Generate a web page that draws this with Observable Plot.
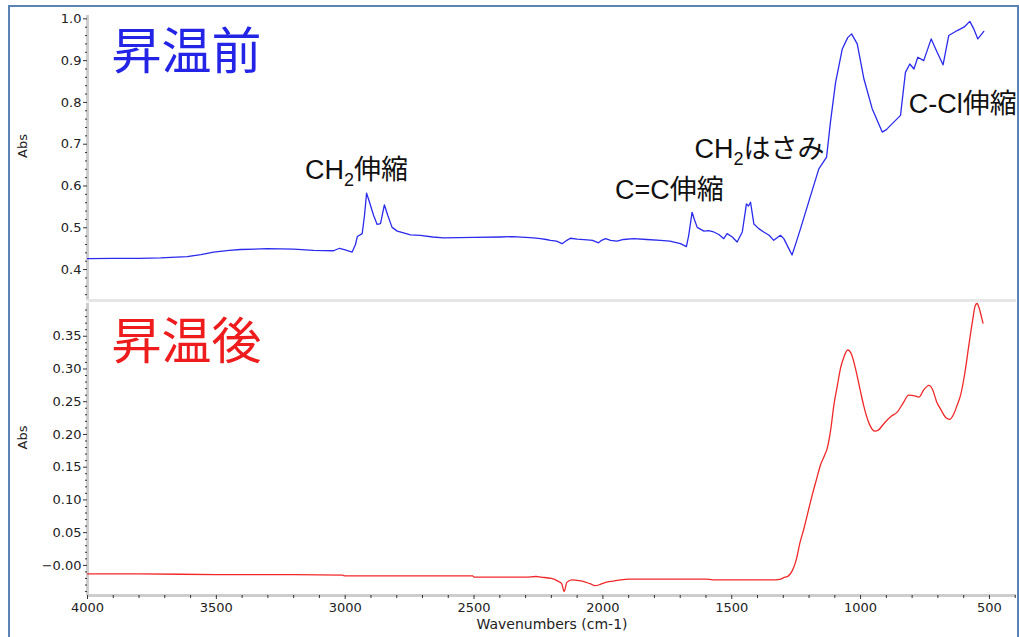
<!DOCTYPE html>
<html>
<head>
<meta charset="utf-8">
<script src="https://cdn.jsdelivr.net/npm/d3@7"></script>
<script src="https://cdn.jsdelivr.net/npm/@observablehq/plot@0.6"></script>
<style>
  html, body { margin: 0; padding: 0; background: #fff; }
  #wrap { position: relative; width: 1019px; height: 637px; overflow: hidden; background: #fff; }
  #frame { position: absolute; left: 8px; top: 5px; width: 1007px; height: 700px; border: 2px solid #5b83b3; border-bottom: none; }
  #sep { position: absolute; left: 87px; top: 299px; width: 929px; height: 3px; background: #e6e6e6; }
  .chart { position: absolute; left: 0; }
</style>
</head>
<body>
<div id="wrap">
  <div id="frame"></div>
  <div id="topChart" class="chart" style="top:0px"></div>
  <div id="sep"></div>
  <div id="botChart" class="chart" style="top:300px"></div>
</div>
<script>
// ---- Data: before heating (昇温前) ----
const topWn = [4000,3900,3800,3717,3613,3560,3511,3450,3406,3303,3200,3123,3045,3022,3000,2973,2960,2953,2934,2925,2917,2905,2890,2876,2863,2848,2835,2818,2798,2770,2747,2708,2660,2619,2500,2397,2348,2300,2270,2242,2220,2203,2180,2158,2140,2126,2100,2061,2040,2017,2005,1990,1970,1945,1920,1881,1830,1776,1740,1699,1676,1667,1654,1645,1634,1608,1590,1570,1550,1531,1518,1498,1479,1459,1443,1435,1427,1414,1395,1376,1355,1337,1311,1298,1280,1266,1250,1233,1194,1162,1132,1117,1097,1071,1050,1035,1013,987,955,916,900,884,845,826,809,793,778,755,726,703,680,658,625,599,576,561,545,522];
const topAbs = [0.426,0.427,0.427,0.428,0.431,0.436,0.442,0.446,0.448,0.450,0.449,0.446,0.445,0.451,0.447,0.442,0.460,0.479,0.486,0.530,0.583,0.560,0.530,0.508,0.510,0.555,0.530,0.501,0.492,0.487,0.483,0.482,0.478,0.476,0.477,0.478,0.479,0.477,0.476,0.474,0.472,0.470,0.468,0.462,0.470,0.475,0.473,0.471,0.470,0.464,0.470,0.474,0.470,0.468,0.472,0.474,0.472,0.470,0.468,0.462,0.455,0.482,0.537,0.520,0.501,0.492,0.493,0.490,0.484,0.474,0.486,0.478,0.466,0.490,0.557,0.552,0.561,0.509,0.498,0.490,0.482,0.470,0.482,0.474,0.452,0.435,0.465,0.498,0.577,0.641,0.669,0.753,0.848,0.928,0.955,0.964,0.940,0.856,0.785,0.729,0.735,0.745,0.769,0.872,0.892,0.880,0.908,0.900,0.952,0.920,0.890,0.960,0.972,0.980,0.994,0.976,0.952,0.970];

// ---- Data: after heating (昇温後) ----
const botWn = [4000,3800,3500,3200,3010,3000,2700,2505,2500,2300,2260,2240,2200,2175,2160,2150,2140,2120,2100,2080,2050,2030,2010,1990,1960,1930,1900,1850,1700,1600,1575,1400,1330,1310,1300,1280,1265,1250,1235,1220,1200,1188,1170,1156,1140,1130,1115,1104,1090,1078,1065,1050,1035,1020,1000,988,965,945,930,915,904,880,858,835,813,790,774,755,735,720,705,690,670,654,640,625,612,595,580,565,555,548,540,530,525];
const botAbs = [-0.013,-0.013,-0.014,-0.014,-0.015,-0.016,-0.016,-0.016,-0.018,-0.018,-0.017,-0.018,-0.020,-0.024,-0.028,-0.040,-0.026,-0.022,-0.023,-0.024,-0.028,-0.031,-0.029,-0.026,-0.024,-0.022,-0.021,-0.021,-0.021,-0.021,-0.022,-0.022,-0.022,-0.021,-0.019,-0.016,-0.008,0.008,0.035,0.056,0.088,0.107,0.133,0.153,0.168,0.178,0.210,0.244,0.275,0.301,0.318,0.329,0.322,0.301,0.265,0.244,0.215,0.205,0.207,0.214,0.219,0.228,0.234,0.248,0.260,0.259,0.257,0.268,0.275,0.268,0.250,0.239,0.226,0.223,0.230,0.245,0.260,0.295,0.336,0.375,0.397,0.400,0.393,0.378,0.370];

// ---- Titles, annotations, ticks ----
const titles = ["昇温前", "昇温後"];
const annLabels = ["CH₂伸縮", "C=C伸縮", "CH₂はさみ", "C-Cl伸縮"];
const annWn = [2956, 1742, 1392, 604];
const annAbs = [0.637, 0.589, 0.687, 0.795];
const topTicks = [0.4, 0.5, 0.6, 0.7, 0.8, 0.9, 1.0];
const topTickLabels = ["0.4", "0.5", "0.6", "0.7", "0.8", "0.9", "1.0"];
const botTicks = [0.0, 0.05, 0.10, 0.15, 0.20, 0.25, 0.30, 0.35];
const botTickLabels = ["−0.00", "0.05", "0.10", "0.15", "0.20", "0.25", "0.30", "0.35"];
const xTicks = [4000, 3500, 3000, 2500, 2000, 1500, 1000, 500];
const xTickLabels = ["4000", "3500", "3000", "2500", "2000", "1500", "1000", "500"];
const xLabel = "Wavenumbers (cm-1)";
const yLabel = "Abs";

const topData = topWn.map((w, i) => ({wn: w, abs: topAbs[i]}));
const botData = botWn.map((w, i) => ({wn: w, abs: botAbs[i]}));
const annData = annLabels.map((t, i) => ({t, wn: annWn[i], abs: annAbs[i]}));

const xDomain = [4000, 395];
const topDomain = [0.326, 1.008];
const botDomain = [-0.046, 0.400];
const tickFont = "'DejaVu Sans', sans-serif";
const axisGray = "#cdcdcd";

const topMinor = d3.range(0.34, 1.0001, 0.02).map(v => +v.toFixed(2)).filter(v => !topTicks.some(t => Math.abs(t - v) < 1e-6));
const botMinor = d3.range(-0.04, 0.40, 0.01).map(v => +v.toFixed(2)).filter(v => !botTicks.some(t => Math.abs(t - v) < 1e-6));
const xMinor = d3.range(400, 4001, 100).filter(v => v % 500 !== 0);

function subscript(svg) {
  svg.querySelectorAll("text").forEach(t => {
    if (t.textContent.includes("₂") && t.children.length === 0) {
      const [a, b] = t.textContent.split("₂");
      t.textContent = "";
      const ns = "http://www.w3.org/2000/svg";
      const s1 = document.createElementNS(ns, "tspan"); s1.textContent = a;
      const s2 = document.createElementNS(ns, "tspan"); s2.textContent = "2";
      s2.setAttribute("font-size", "18"); s2.setAttribute("dy", "7");
      const s3 = document.createElementNS(ns, "tspan"); s3.textContent = b;
      s3.setAttribute("dy", "-7");
      t.append(s1, s2, s3);
    }
  });
}

const topPlot = Plot.plot({
  width: 1019, height: 301,
  marginLeft: 87, marginRight: 3, marginTop: 15, marginBottom: 1,
  style: {background: "transparent", fontFamily: tickFont, fontSize: "13px", color: "#222", overflow: "visible"},
  x: {domain: xDomain, axis: null},
  y: {domain: topDomain, axis: null},
  marks: [
    Plot.ruleX([4000], {stroke: axisGray, strokeWidth: 3}),
    Plot.axisY(topMinor, {tickSize: 2, tickFormat: () => "", stroke: "#333", label: null}),
    Plot.axisY(topTicks, {tickSize: 4, tickPadding: 2, tickFormat: (d, i) => topTickLabels[i], stroke: "#333", fill: "#222", fontSize: 13, label: null}),
    Plot.text([yLabel], {frameAnchor: "left", rotate: -90, dx: -65, fontSize: 13, fill: "#222"}),
    Plot.line(topData, {x: "wn", y: "abs", stroke: "#2b2bee", strokeWidth: 1.3}),
    Plot.text([titles[0]], {frameAnchor: "top-left", dx: 24, dy: 18, lineAnchor: "top", textAnchor: "start", fontSize: 50, fill: "#2424e6", fontFamily: "'Noto Sans CJK JP', sans-serif"}),
    Plot.text(annData, {x: "wn", y: "abs", text: "t", textAnchor: "middle", fontSize: 27, fill: "#111", fontFamily: "'Liberation Sans', 'Noto Sans CJK JP', sans-serif"})
  ]
});
subscript(topPlot);
document.getElementById("topChart").append(topPlot);

const botPlot = Plot.plot({
  width: 1019, height: 337,
  marginLeft: 87, marginRight: 3, marginTop: 3, marginBottom: 42,
  style: {background: "transparent", fontFamily: tickFont, fontSize: "13px", color: "#222", overflow: "visible"},
  x: {domain: xDomain, axis: null},
  y: {domain: botDomain, axis: null},
  marks: [
    Plot.ruleX([4000], {stroke: axisGray, strokeWidth: 3}),
    Plot.ruleY([botDomain[0]], {stroke: axisGray, strokeWidth: 3}),
    Plot.axisY(botMinor, {tickSize: 2, tickFormat: () => "", stroke: "#333", label: null}),
    Plot.axisY(botTicks, {tickSize: 4, tickPadding: 2, tickFormat: (d, i) => botTickLabels[i], stroke: "#333", fill: "#222", fontSize: 13, label: null}),
    Plot.axisX(xMinor, {tickSize: 3, tickFormat: () => "", stroke: "#333", label: null}),
    Plot.axisX(xTicks, {tickSize: 4, tickPadding: 3, tickFormat: (d, i) => xTickLabels[i], stroke: "#333", fill: "#222", fontSize: 13, label: null}),
    Plot.text([yLabel], {frameAnchor: "left", rotate: -90, dx: -65, fontSize: 13, fill: "#222"}),
    Plot.text([xLabel], {frameAnchor: "bottom", dy: 33, fontSize: 14, fill: "#222"}),
    Plot.line(botData, {x: "wn", y: "abs", stroke: "#f02828", strokeWidth: 1.3, curve: "monotone-x"}),
    Plot.text([titles[1]], {frameAnchor: "top-left", dx: 24, dy: 20, lineAnchor: "top", textAnchor: "start", fontSize: 50, fill: "#ee1c1c", fontFamily: "'Noto Sans CJK JP', sans-serif"})
  ]
});
document.getElementById("botChart").append(botPlot);
</script>
</body>
</html>
